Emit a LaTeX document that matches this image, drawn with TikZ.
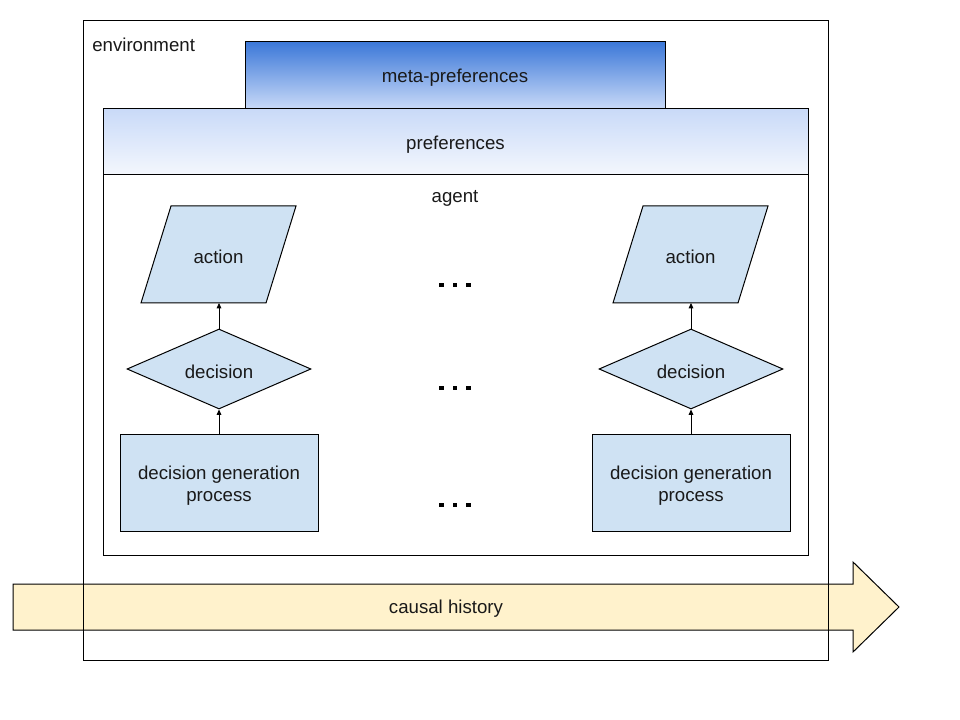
\documentclass[tikz,border=0pt]{standalone}
\usepackage{fontspec}
\setmainfont{Liberation Sans}
\usetikzlibrary{shapes.geometric,arrows.meta}
\definecolor{boxblue}{HTML}{CFE2F3}
\definecolor{metatop}{HTML}{3C78D8}
\definecolor{metabot}{HTML}{C9DAF8}
\definecolor{preftop}{HTML}{C9DAF8}
\definecolor{prefbot}{HTML}{F4F7FD}
\definecolor{histfill}{HTML}{FFF2CC}
\tikzset{
  lbl/.style={font=\fontsize{14}{16.5}\selectfont, text=black!90, inner sep=0pt},
  shp/.style={draw=black, line width=0.75pt, fill=boxblue},
  flow/.style={-{Triangle[length=4pt,width=3.5pt]}, line width=0.6pt},
  dotmark/.style={rectangle, fill=black, minimum size=3.2pt, inner sep=0pt},
  frame/.style={draw=black, line width=0.75pt, inner sep=0pt},
}
\begin{document}
\begin{tikzpicture}[x=0.75pt,y=-0.75pt]
\useasboundingbox (0,0) rectangle (960,720);
% causal history arrow (behind)
\draw[line width=0.75pt, fill=histfill] (13,584) -- (853,584) -- (853,562) -- (899,607) -- (853,652) -- (853,630) -- (13,630) -- cycle;
\node[lbl] (hist) at (446,609) {causal history};
% environment
\node[frame, minimum width=558.75pt, minimum height=479.25pt] (env) at (455.5,340.5) {};
\node[lbl, anchor=west] (envl) at (92,45) {environment};
% meta-preferences
\node[frame, top color=metatop, bottom color=metabot, minimum width=315pt, minimum height=50.25pt] (meta) at (455,75.5) {};
\node[lbl] (metal) at (455,78) {meta-preferences};
% preferences
\node[frame, top color=preftop, bottom color=prefbot, minimum width=528.75pt, minimum height=49.5pt] (pref) at (455.5,142) {};
\node[lbl] (prefl) at (455.5,145) {preferences};
% agent
\node[frame, minimum width=528.75pt, minimum height=285pt] (agent) at (455.5,365) {};
\node[lbl] (agentl) at (455,198.5) {agent};
% left column
\draw[shp] (141,303) -- (171,206) -- (296,206) -- (266,303) -- cycle;
\node[lbl, minimum height=72.75pt] (act1) at (218.5,257) {action};
\node[shp, diamond, aspect=2.3, minimum width=138pt, minimum height=60pt, inner sep=0pt] (dec1) at (219,369) {};
\node[lbl] (dec1l) at (219,371.5) {decision};
\node[shp, minimum width=148.5pt, minimum height=72.75pt] (dgp1) at (219,482.5) {};
\node[lbl, align=center] (dgp1l) at (219,485.5) {decision generation\\process};
\draw[flow] (dgp1.north) -- (dec1.south);
\draw[flow] (dec1.north) -- (219,303);
% right column
\draw[shp] (613,303) -- (643,206) -- (768,206) -- (738,303) -- cycle;
\node[lbl, minimum height=72.75pt] (act2) at (690.5,257) {action};
\node[shp, diamond, aspect=2.3, minimum width=138pt, minimum height=60pt, inner sep=0pt] (dec2) at (691,369) {};
\node[lbl] (dec2l) at (691,371.5) {decision};
\node[shp, minimum width=148.5pt, minimum height=72.75pt] (dgp2) at (691,482.5) {};
\node[lbl, align=center] (dgp2l) at (691,485.5) {decision generation\\process};
\draw[flow] (dgp2.north) -- (dec2.south);
\draw[flow] (dec2.north) -- (691,303);
% ellipsis dots
\foreach \yy/\r in {285/a,388/b,505/c}{
  \node[dotmark] (d1\r) at (441.5,\yy) {};
  \node[dotmark] (d2\r) at (455,\yy) {};
  \node[dotmark] (d3\r) at (468.5,\yy) {};
}
\end{tikzpicture}
\end{document}
